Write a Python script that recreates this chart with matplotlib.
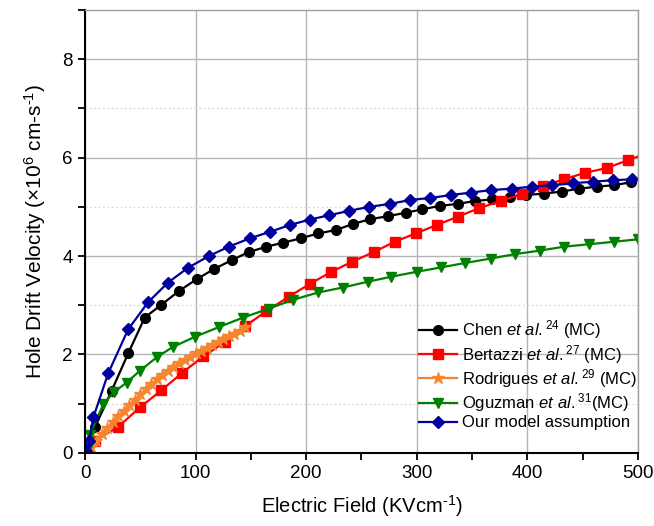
import numpy as np
import matplotlib
matplotlib.use("Agg")
from matplotlib import pyplot as plt
from matplotlib.ticker import MultipleLocator

plt.rcParams["font.family"] = ["Liberation Sans", "DejaVu Sans"]
plt.rcParams["mathtext.fontset"] = "custom"
plt.rcParams["mathtext.rm"] = "Liberation Sans"
plt.rcParams["mathtext.it"] = "Liberation Sans:italic"

# Chen et al. (MC)
chen_x = [9, 24, 39, 54, 69, 85, 101, 117, 133, 148, 164, 179, 195, 211, 227, 242,
          258, 274, 290, 305, 321, 337, 353, 368, 384, 399, 415, 431, 447, 463, 478, 494]
chen_y = [0.52, 1.26, 2.02, 2.75, 3.01, 3.29, 3.53, 3.74, 3.92, 4.08, 4.19, 4.27, 4.36, 4.46, 4.53, 4.65,
          4.75, 4.81, 4.88, 4.95, 5.02, 5.06, 5.12, 5.15, 5.21, 5.24, 5.27, 5.31, 5.37, 5.41, 5.44, 5.50]

# Bertazzi et al. (MC)
bert_x = [2, 9, 30, 50, 69, 88, 107, 127, 145, 164, 184, 203, 222, 241, 261, 280,
          299, 318, 337, 356, 376, 395, 414, 433, 452, 472, 491, 510]
bert_y = [0.05, 0.25, 0.53, 0.93, 1.27, 1.63, 1.96, 2.26, 2.58, 2.88, 3.17, 3.43, 3.67, 3.88, 4.08, 4.29,
          4.46, 4.63, 4.80, 4.97, 5.12, 5.26, 5.42, 5.56, 5.69, 5.79, 5.95, 6.10]

# Rodrigues et al. (MC)
rod_x = [5, 10, 15, 20, 25, 30, 35, 40, 45, 50, 55, 60, 65, 70, 75, 80, 85, 90, 95, 100,
         105, 110, 115, 120, 125, 130, 135, 140, 145]
rod_y = [0.12, 0.25, 0.38, 0.51, 0.63, 0.75, 0.86, 0.97, 1.08, 1.19, 1.29, 1.39, 1.50, 1.59, 1.67,
         1.75, 1.82, 1.88, 1.95, 2.02, 2.08, 2.14, 2.20, 2.25, 2.31, 2.37, 2.42, 2.48, 2.55]

# Oguzman et al. (MC)
ogu_x = [2, 4.5, 16.5, 26, 37.6, 49.7, 64.7, 79.2, 99.5, 121.4, 143, 166, 188, 211, 233, 256,
         277, 300, 322, 344, 367, 389, 411, 433, 456, 478, 500]
ogu_y = [0.05, 0.37, 0.99, 1.23, 1.43, 1.67, 1.94, 2.15, 2.36, 2.56, 2.75, 2.93, 3.11, 3.26, 3.36, 3.48,
         3.58, 3.68, 3.77, 3.86, 3.95, 4.04, 4.11, 4.19, 4.24, 4.29, 4.34]

# Our model assumption
ours_x = [1, 4, 7.5, 21, 39, 57, 75, 93, 112, 130, 149, 167, 185, 203, 221, 239,
          257, 276, 294, 312, 331, 349, 367, 386, 404, 422, 441, 459, 477, 495]
ours_y = [0.03, 0.25, 0.72, 1.62, 2.51, 3.06, 3.46, 3.76, 4.00, 4.19, 4.36, 4.49, 4.63, 4.74, 4.83, 4.92,
          5.00, 5.06, 5.14, 5.18, 5.24, 5.29, 5.34, 5.37, 5.41, 5.44, 5.48, 5.51, 5.54, 5.56]

fig = plt.figure(figsize=(6.54, 5.26), dpi=100)
ax = fig.add_axes([0.130, 0.139, 0.8455, 0.842])

ax.plot(chen_x, chen_y, color="black", lw=1.6, marker="o", ms=7,
        label=r"Chen $\mathit{et\ al.^{24}}$ (MC)")
ax.plot(bert_x, bert_y, color="#ff0000", lw=1.6, marker="s", ms=6.5,
        label=r"Bertazzi $\mathit{et\ al.^{27}}$ (MC)")
ax.plot(rod_x, rod_y, color="#f5852f", lw=1.6, marker="*", ms=9,
        label=r"Rodrigues $\mathit{et\ al.^{29}}$ (MC)")
ax.plot(ogu_x, ogu_y, color="#008000", lw=1.6, marker="v", ms=7.5,
        label=r"Oguzman $\mathit{et\ al.^{31}}$(MC)")
ax.plot(ours_x, ours_y, color="#00009a", lw=1.6, marker="D", ms=6.5,
        label="Our model assumption")

ax.set_xlim(0, 500)
ax.set_ylim(0, 9)
ax.xaxis.set_major_locator(MultipleLocator(100))
ax.xaxis.set_minor_locator(MultipleLocator(50))
ax.yaxis.set_major_locator(MultipleLocator(2))
ax.yaxis.set_minor_locator(MultipleLocator(1))

ax.grid(which="major", color="#b4b4b4", lw=1.0, ls="-")
ax.grid(which="minor", axis="y", color="#d8d8d8", lw=0.9, ls=(0, (1.5, 2)))
ax.set_axisbelow(True)

for side in ["left", "bottom"]:
    ax.spines[side].set_color("black")
    ax.spines[side].set_linewidth(1.5)
for side in ["top", "right"]:
    ax.spines[side].set_color("#a0a0a0")
    ax.spines[side].set_linewidth(1.0)

ax.tick_params(which="both", direction="out", length=5, width=1.3, labelsize=13.5, pad=4,
               top=False, right=False)

ax.set_xlabel(r"Electric Field (KVcm$^{\text{-1}}$)", fontsize=14.5, labelpad=8)
ax.set_ylabel(r"Hole Drift Velocity ($\times$10$^{6}$ cm-s$^{\text{-1}}$)", fontsize=15, labelpad=10)

ax.legend(loc="center left", bbox_to_anchor=(0.604, 0.177), frameon=False, fontsize=12,
          borderpad=0, borderaxespad=0, handlelength=2.3, handletextpad=0.3, labelspacing=0.08)

fig.savefig("out.png", dpi=100)
